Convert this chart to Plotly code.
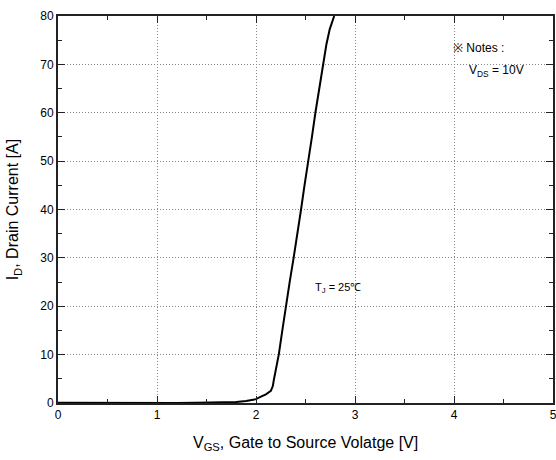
import plotly.graph_objects as go

vgs = [0.0, 0.2, 0.4, 0.6, 0.8, 1.0, 1.2, 1.4, 1.5, 1.6, 1.7, 1.8, 1.9, 1.95,
       2.0, 2.05, 2.1, 2.15, 2.17, 2.18, 2.2, 2.23, 2.266, 2.30, 2.34, 2.38,
       2.42, 2.455, 2.49, 2.53, 2.565, 2.60, 2.64, 2.68, 2.71, 2.745, 2.77, 2.79]
id_a = [0.05, 0.02, 0.06, 0.1, 0.05, 0.05, 0.02, 0.04, 0.05, 0.1, 0.15, 0.2, 0.4, 0.6,
        0.8, 1.3, 1.8, 2.5, 3.5, 4.75, 7.0, 10.0, 15.0, 20.0, 25.0, 30.0,
        35.0, 40.0, 45.0, 50.0, 55.0, 60.0, 65.0, 70.0, 74.0, 77.3, 78.9, 80.0]

x_ticks = [0, 1, 2, 3, 4, 5]
y_ticks = [0, 10, 20, 30, 40, 50, 60, 70, 80]

FONT = "Liberation Sans, Arial, sans-serif"

fig = go.Figure()
fig.add_trace(go.Scatter(x=vgs, y=id_a, mode="lines",
                         line=dict(color="black", width=2), showlegend=False))

axis_common = dict(
    showline=True, linecolor="#222", linewidth=1.8, mirror="ticks",
    ticks="inside", ticklen=7, tickwidth=1.2, tickcolor="#222",
    showgrid=True, gridcolor="#888", griddash="1px,2px", gridwidth=1,
    zeroline=False, automargin=False,
    tickfont=dict(family=FONT, size=12, color="black"),
)

fig.update_xaxes(range=[0, 5], tickvals=x_ticks, ticklabeloverflow="allow",
                 minor=dict(dtick=0.5, ticks="inside", ticklen=4, tickcolor="#222", showgrid=False),
                 **axis_common)
fig.update_yaxes(range=[0, 80], tickvals=y_ticks,
                 minor=dict(dtick=5, ticks="inside", ticklen=4, tickcolor="#222", showgrid=False),
                 **axis_common)

fig.add_annotation(x=0.5, y=-0.074, xref="paper", yref="paper",
                   text="V<sub>GS</sub>, Gate to Source Volatge [V]", showarrow=False,
                   xanchor="center", yanchor="top",
                   font=dict(family=FONT, size=16, color="black"))
fig.add_annotation(x=-0.066, y=0.5, xref="paper", yref="paper", textangle=-90,
                   text="I<sub>D</sub>, Drain Current [A]", showarrow=False,
                   xanchor="right", yanchor="middle",
                   font=dict(family=FONT, size=16, color="black"))

fig.add_annotation(x=2.58, y=23.8, text="T<sub>J</sub> = 25℃", showarrow=False,
                   xanchor="left", yanchor="middle",
                   font=dict(family=FONT, size=11, color="black"))
fig.add_annotation(x=3.97, y=73.3, text="※ Notes :", showarrow=False,
                   xanchor="left", yanchor="middle",
                   font=dict(family=FONT, size=12, color="black"))
fig.add_annotation(x=4.13, y=68.6, text="V<sub>DS</sub> = 10V", showarrow=False,
                   xanchor="left", yanchor="middle",
                   font=dict(family=FONT, size=12, color="black"))

fig.update_layout(width=556, height=460,
                  margin=dict(l=58, r=3, t=16, b=57),
                  paper_bgcolor="white", plot_bgcolor="white",
                  font=dict(family=FONT, color="black"))

# remove the browser's default page margin so the figure fills the window exactly
fig.write_html("out.html",
               config={"displayModeBar": False},
               post_script="document.body.style.margin='0';document.body.style.overflow='hidden';")
